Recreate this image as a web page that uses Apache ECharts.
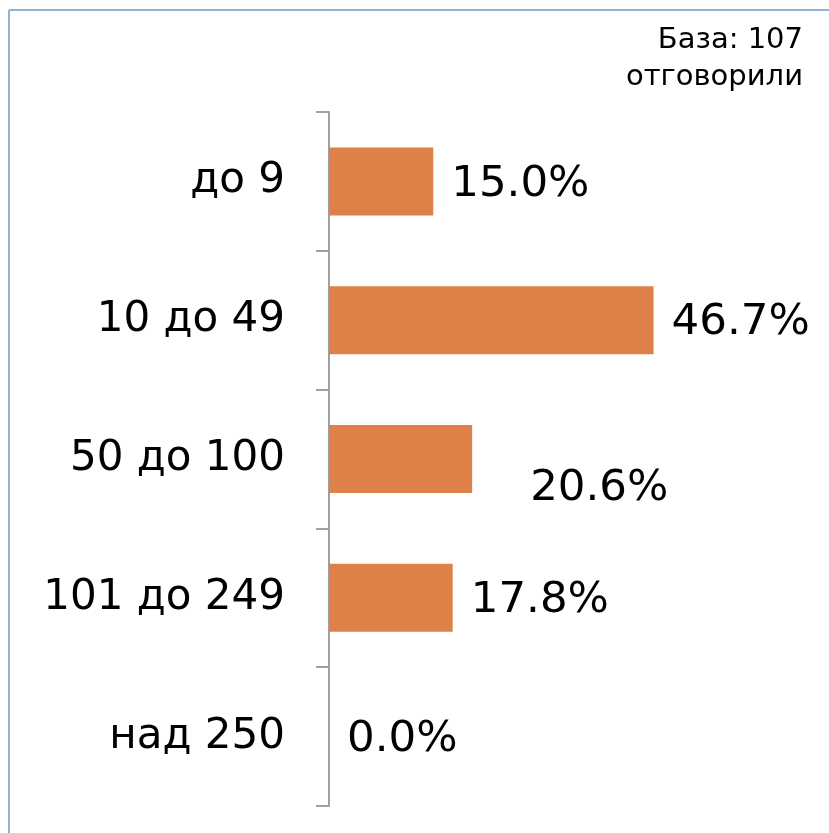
<!DOCTYPE html>
<html>
<head>
<meta charset="utf-8">
<script src="https://cdn.jsdelivr.net/npm/echarts@6/dist/echarts.min.js"></script>
<style>
  html, body { margin: 0; padding: 0; background: #fff; }
  #chart { width: 829px; height: 833px; }
</style>
</head>
<body>
<div id="chart"></div>
<script>
// categories, top to bottom
var categories = ['до 9', '10 до 49', '50 до 100', '101 до 249', 'над 250'];
// share of respondents, %
var shares = [15.0, 46.7, 20.6, 17.8, 0.0];
var baseNote = 'База: 107\nотговорили';

var chart = echarts.init(document.getElementById('chart'));

var barData = shares.map(function (v, i) {
  var item = { value: v };
  // the 20.6% label sits lower and further right in the original
  if (i === 2) {
    item.label = { offset: [40, 30] };
  }
  return item;
});

chart.setOption({
  backgroundColor: '#fff',
  animation: false,
  textStyle: { fontFamily: 'DejaVu Sans' },
  grid: { left: 329, right: 83, top: 112, bottom: 27 },
  xAxis: {
    type: 'value',
    min: 0,
    max: 60,
    show: false
  },
  yAxis: {
    type: 'category',
    data: categories,
    inverse: true,
    axisLine: { show: true, lineStyle: { color: '#a0a0a0', width: 2 } },
    axisTick: { show: true, length: 13, lineStyle: { color: '#a0a0a0', width: 2 } },
    axisLabel: { fontSize: 42, color: '#000', margin: 44, padding: [6, 0, 0, 0] },
    splitLine: { show: false }
  },
  series: [{
    type: 'bar',
    data: barData,
    barWidth: 68,
    itemStyle: { color: '#de8149' },
    label: {
      show: true,
      position: 'right',
      distance: 18,
      offset: [0, 3],
      fontSize: 43.5,
      color: '#000',
      formatter: function (p) { return p.value.toFixed(1) + '%'; }
    }
  }],
  graphic: [
    // light blue frame (top and left edges visible)
    { type: 'line', shape: { x1: 9, y1: 10, x2: 829, y2: 10 }, style: { stroke: '#93b3d0', lineWidth: 2 } },
    { type: 'line', shape: { x1: 9, y1: 10, x2: 9, y2: 833 }, style: { stroke: '#93b3d0', lineWidth: 2 } },
    {
      type: 'text',
      x: 803,
      y: 22,
      style: {
        text: baseNote,
        font: '29px "DejaVu Sans"',
        fill: '#000',
        align: 'right',
        verticalAlign: 'top',
        lineHeight: 37
      }
    }
  ]
});
</script>
</body>
</html>
